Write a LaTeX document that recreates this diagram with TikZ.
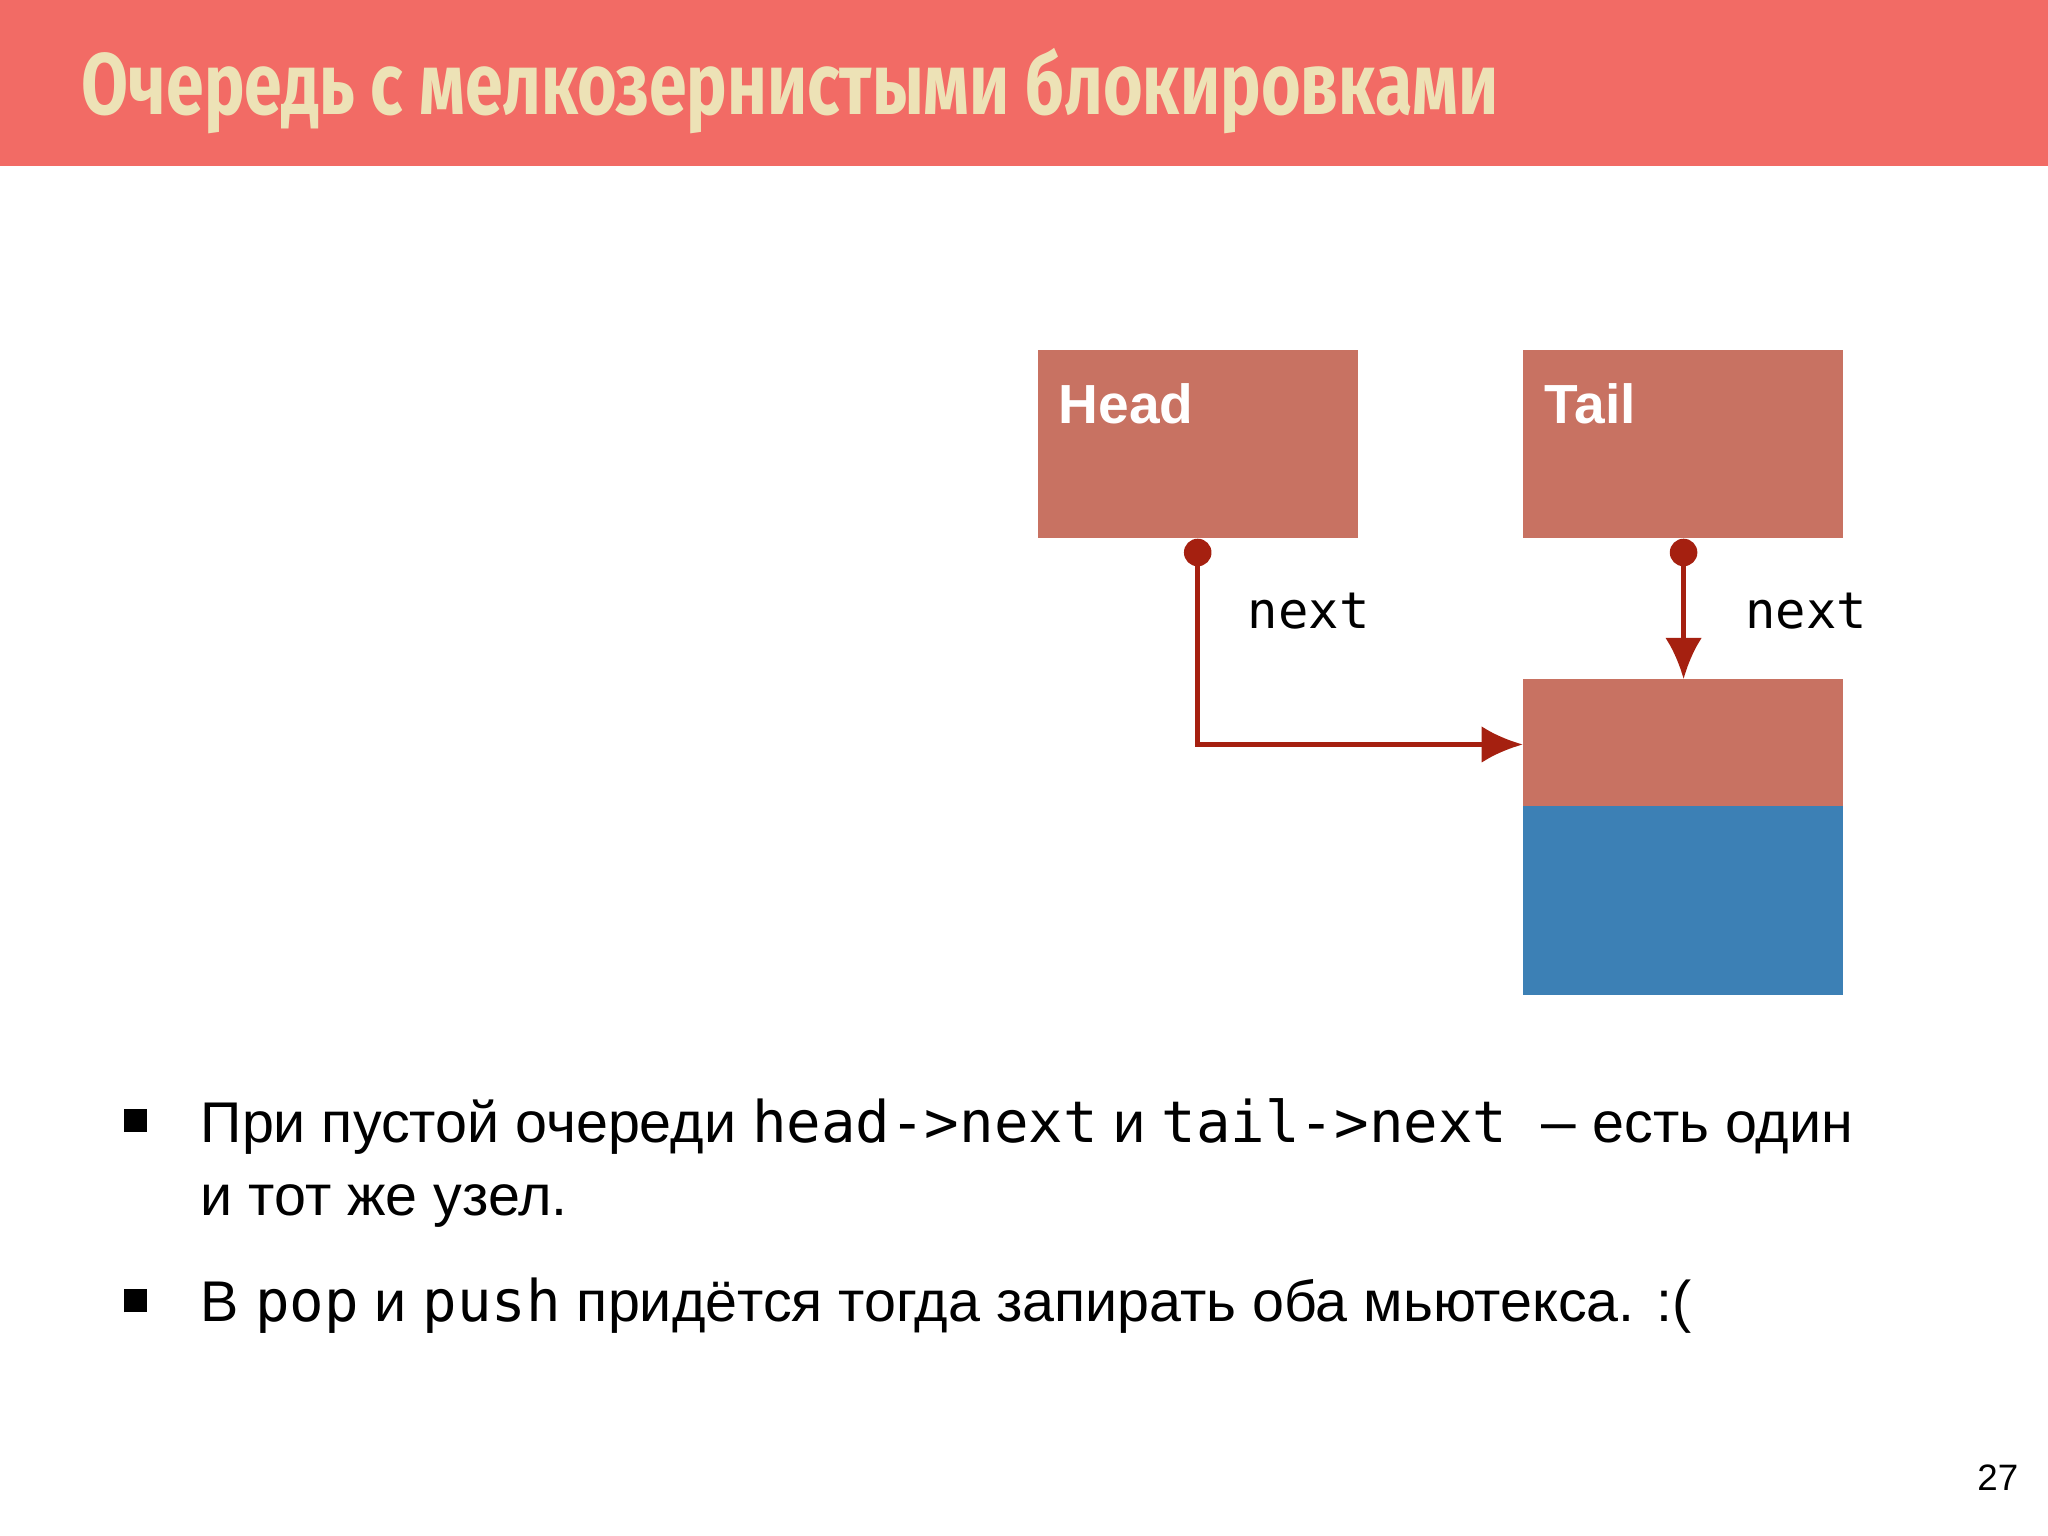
\documentclass[tikz,border=0pt]{standalone}
\usepackage{fontspec}
\setmainfont{Liberation Sans}
\newfontfamily\titlefont{Fira Sans}
\newfontfamily\monof{DejaVu Sans Mono}
\usetikzlibrary{arrows.meta}
\definecolor{bar}{HTML}{F26B65}
\definecolor{ttl}{HTML}{EDE2B6}
\definecolor{boxr}{HTML}{C87262}
\definecolor{boxb}{HTML}{3C80B5}
\definecolor{lnk}{HTML}{A52010}
\tikzset{
 cell/.style={fill=boxr,draw=none},
 lab/.style={anchor=base west,text=white,font=\bfseries\fontsize{12}{14}\selectfont,inner sep=0},
 nx/.style={font=\monof\fontsize{11}{13}\selectfont,inner sep=0},
 link/.style={draw=lnk,line width=1.1pt,-{Latex[length=9pt,width=8pt]}},
 body/.style={anchor=base west,inner sep=0,font=\fontsize{12.5}{15}\selectfont}
}
\begin{document}
\begin{tikzpicture}[x=0.01cm,y=-0.01cm]
\useasboundingbox (0,0) rectangle (1568,1176);
\fill[white] (0,0) rectangle (1568,1176);
\fill[bar] (0,0) rectangle (1568,127);
\node[anchor=base west,inner sep=0,text=ttl] (title) at (62,88)
 {\scalebox{0.78}[1]{\titlefont\bfseries\fontsize{19}{22}\selectfont Очередь с мелкозернистыми блокировками}};
\path[cell] (795,268) rectangle (1040,412);
\path[cell] (1166,268) rectangle (1411,412);
\path[cell] (1166,520) rectangle (1411,617);
\fill[boxb] (1166,617) rectangle (1411,762);
\coordinate (nodetop) at (1289,520);
\coordinate (nodeleft) at (1166,570);
\node[lab] (head) at (810,324) {Head};
\node[lab] (tail) at (1182,324) {Tail};
\node[circle,fill=lnk,minimum size=6pt,inner sep=0] (hd) at (917,423) {};
\node[circle,fill=lnk,minimum size=6pt,inner sep=0] (td) at (1289,423) {};
\draw[link] (hd.center) |- (nodeleft);
\draw[link] (td.center) -- (nodetop);
\node[nx] (n1) at (1002,468) {next};
\node[nx] (n2) at (1383,468) {next};
\node[anchor=center,inner sep=0] (b1) at (104,858) {\rule{5pt}{5pt}};
\node[anchor=center,inner sep=0] (b2) at (104,996) {\rule{5pt}{5pt}};
\node[body] (t1) at (153,875) {При пустой очереди {\monof head->next} и {\monof tail->next –} есть один};
\node[body] (t2) at (153,931) {и тот же узел.};
\node[body] (t3) at (153,1012) {В {\monof pop} и {\monof push} придётся тогда запирать оба мьютекса. :(};
\node[anchor=base east,inner sep=0,font=\fontsize{8}{10}\selectfont] (pg) at (1546,1141) {27};
\end{tikzpicture}
\end{document}
